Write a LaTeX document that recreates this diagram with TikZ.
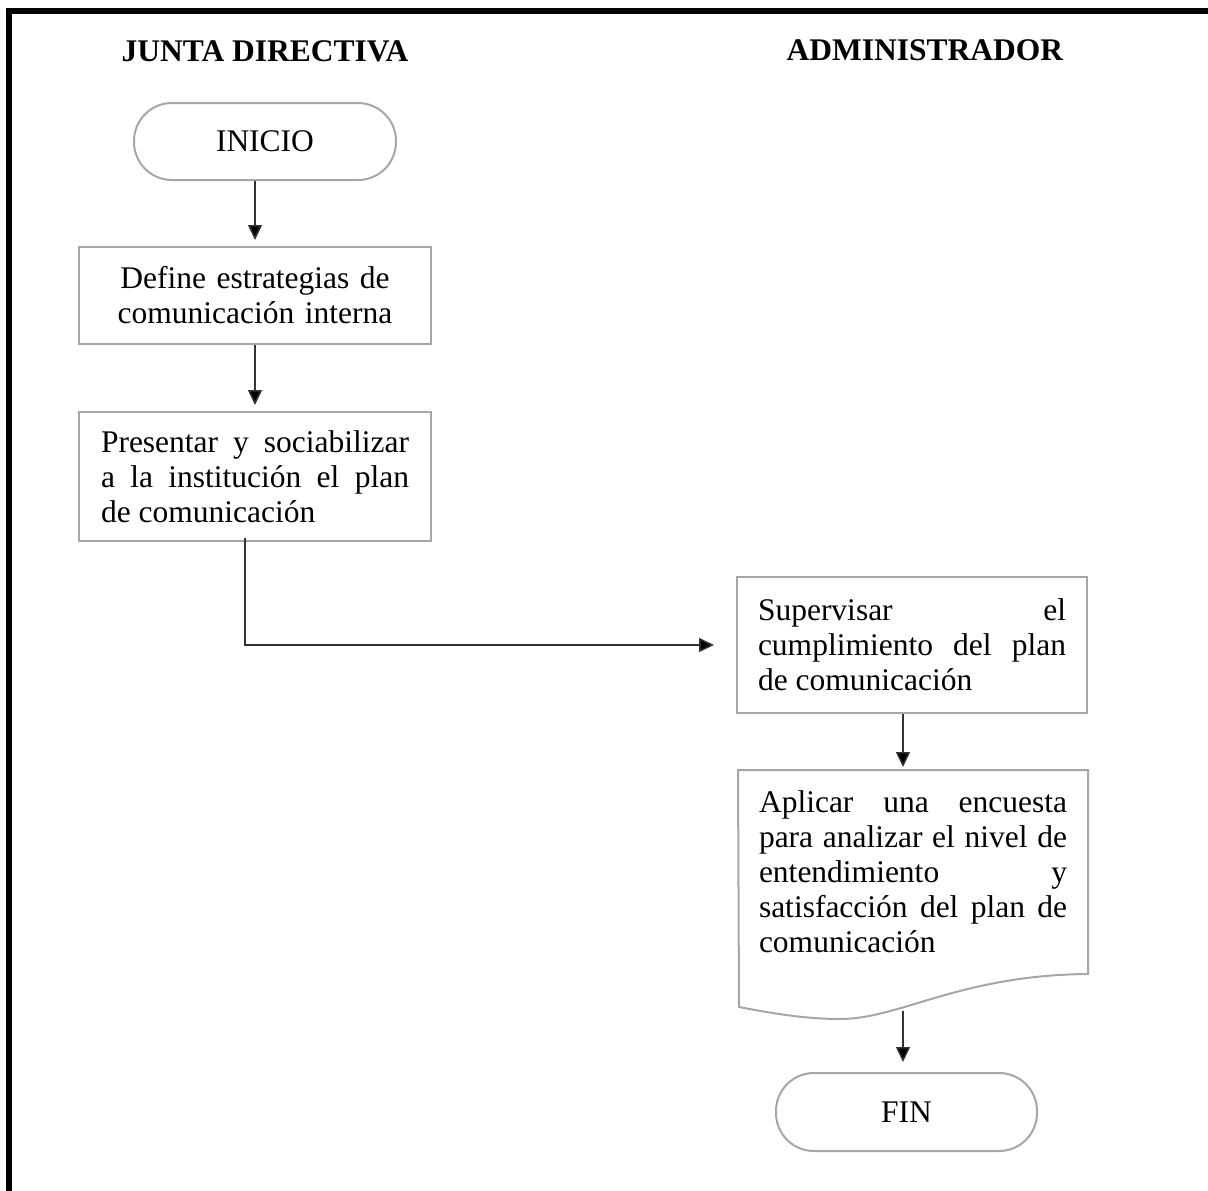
\documentclass[tikz,border=0pt]{standalone}
\usepackage{fontspec}
\setmainfont{Liberation Serif}
\usetikzlibrary{arrows.meta}
\definecolor{boxgray}{HTML}{A6A6A6}
\definecolor{linegray}{HTML}{333333}

\begin{document}
\begin{tikzpicture}[x=1pt,y=-1pt,
    lane/.style={font=\fontsize{31.5}{35}\selectfont\bfseries},
    terminal/.style={draw=boxgray, line width=2pt, rounded corners=38pt,
        font=\fontsize{31.5}{35}\selectfont, inner sep=0pt},
    process/.style={draw=boxgray, line width=2pt, inner sep=0pt,
        font=\fontsize{31.5}{35}\selectfont, text width=308pt, align=justify},
    flow/.style={draw=linegray, line width=1.5pt,
        -{Triangle[length=15pt,width=14pt,fill=black]}}]
        \useasboundingbox (0,0) rectangle (1208,1191);

        % Frame
        \draw[line width=6pt] (9,1191) -- (9,11) -- (1208,11);

        % Lane titles
        \node[lane] (junta) at (265,51) {JUNTA DIRECTIVA};
        \node[lane] (admin) at (925,50) {ADMINISTRADOR};

        % Junta directiva
        \node[terminal, minimum width=262pt, minimum height=77pt] (inicio) at (265,141.5) {INICIO};
        \node[process, minimum width=352pt, minimum height=97pt, align=center] (define) at (255,295.5)
            {Define estrategias de\\ comunicación interna};
        \node[process, minimum width=352pt, minimum height=129pt] (presentar) at (255,476.5)
            {Presentar y sociabilizar\linebreak a la institución el plan\linebreak de comunicación};

        % Administrador
        \node[process, minimum width=350pt, minimum height=136pt] (supervisar) at (912,645)
            {Supervisar el\linebreak cumplimiento del plan\linebreak de comunicación};
        \node[process, draw=none, minimum width=348pt, minimum height=202pt] (encuesta) at (913,872)
            {Aplicar una encuesta\linebreak para analizar el nivel de\linebreak entendimiento y\linebreak satisfacción del plan de\linebreak comunicación};
        \draw[boxgray, line width=2pt] (encuesta.south east) -- (encuesta.north east)
            -- (encuesta.north west) -- (739,1007)
            .. controls (770,1013) and (805,1019) .. (840,1019)
            .. controls (900,1019) and (960,975) .. (encuesta.south east) -- cycle;
        \coordinate (wave) at ([xshift=-10pt,yshift=-37pt]encuesta.south);
        \node[terminal, minimum width=261pt, minimum height=78pt] (fin) at (906.5,1112) {FIN};

        % Connectors
        \draw[flow, shorten >=6pt] (inicio.south -| define.north) -- (define.north);
        \draw[flow, shorten >=6pt] (define.south) -- (presentar.north);
        \draw[flow, shorten >=22pt] ([xshift=-10pt,yshift=4pt]presentar.south) |- (supervisar.west);
        \draw[flow, shorten >=3pt] ([xshift=-9pt]supervisar.south) -- ([xshift=-9pt]supervisar.south |- encuesta.north);
        \draw[flow, shorten >=10pt] (wave) -- (wave |- fin.north);
    \end{tikzpicture}
\end{document}
